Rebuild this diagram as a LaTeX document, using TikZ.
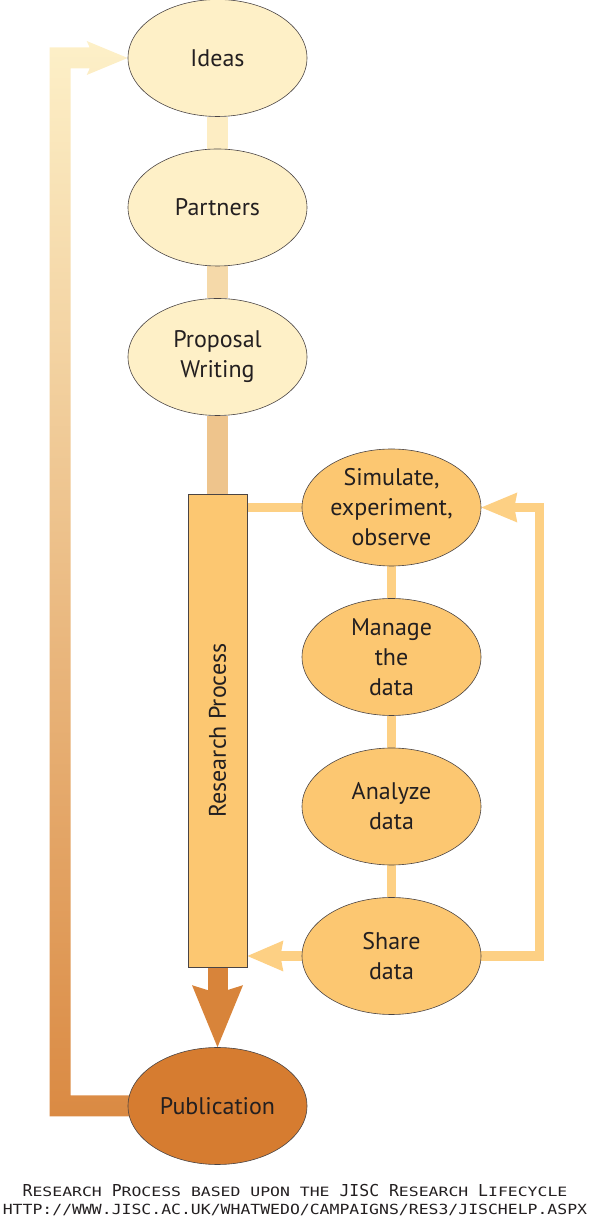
\documentclass[tikz,border=0pt]{standalone}
\usepackage{graphicx}
\usepackage{fontspec}
\setmainfont{PT Sans}
\newfontfamily\capfont{DejaVu Sans Mono}
\usetikzlibrary{arrows.meta,shapes,calc,backgrounds}

\definecolor{cream}{HTML}{FEF0C7}
\definecolor{gold}{HTML}{FCC771}
\definecolor{rust}{HTML}{D67C30}
\definecolor{ink}{HTML}{231F20}
\definecolor{rim}{HTML}{4A4444}
\definecolor{linkA}{HTML}{FDEDC3}
\definecolor{linkB}{HTML}{F5D9A9}
\definecolor{linkC}{HTML}{EEC48C}
\definecolor{flowc}{HTML}{FDD084}
\definecolor{trunkc}{HTML}{D8843A}
\definecolor{loopTop}{HTML}{FDF0C8}
\definecolor{loopBot}{HTML}{DA8A43}

\newcommand\lowcap[2][0.78]{\scalebox{1}[#1]{#2}}

\begin{document}
\begin{tikzpicture}[x=1pt,y=1pt,node distance=149.5pt,
                    stage/.style={ellipse,draw=rim,line width=0.6pt,
                      minimum width=179pt,minimum height=117pt,inner sep=0pt,
                      align=center,text=ink,font=\fontsize{24}{30}\selectfont},
                    column/.style={rectangle,draw=rim,line width=0.8pt,fill=gold,
                      minimum width=59pt,minimum height=473pt,inner sep=0pt,
                      text=ink,font=\fontsize{24}{28}\selectfont},
                    spine/.style={line width=21pt},
                    flow/.style={draw=flowc,line width=9.5pt},
                    caption/.style={anchor=base,inner sep=0pt,text=ink,
                      font=\capfont\fontsize{16.45}{18}\selectfont}]

  \useasboundingbox (0,0) rectangle (590,1219);

  \node[stage,fill=cream] (ideas)    at (217.5,1161)  {Ideas};
  \node[stage,fill=cream] (partners) [below of=ideas] {Partners};
  \node[stage,fill=cream] (proposal) [below of=partners] {Proposal\\Writing};
  \node[column]           (research) at (217.5,488.5) {\rotatebox{90}{Research Process}};
  \node[stage,fill=gold]  (simulate) at (391.5,711.5) {Simulate,\\experiment,\\observe};
  \node[stage,fill=gold]  (manage)   [below of=simulate] {Manage\\the\\data};
  \node[stage,fill=gold]  (analyze)  [below of=manage] {Analyze\\data};
  \node[stage,fill=gold]  (share)    [below of=analyze] {Share\\data};
  \node[stage,fill=rust]  (pub)      at (217.5,113)  {Publication};

  \node[caption] (cap1) at (295,23)
    {R\lowcap{ESEARCH} P\lowcap{ROCESS} \lowcap{BASED UPON THE} JISC R\lowcap{ESEARCH} L\lowcap{IFECYCLE}};
  \node[caption] (cap2) at (295,5)
    {\lowcap[0.85]{HTTP://WWW.JISC.AC.UK/WHATWEDO/CAMPAIGNS/RES3/JISCHELP.ASPX}};

  \begin{scope}[on background layer]
    % main column
    \draw[spine,draw=linkA] (ideas) -- (partners);
    \draw[spine,draw=linkB] (partners) -- (proposal);
    \draw[spine,draw=linkC] (proposal) -- (research);
    \draw[draw=trunkc,line width=20pt,
          -{Stealth[length=62pt,width=51pt,inset=8pt,line width=0pt]}]
      (research) -- (pub);

    % research cycle
    \draw[flow] (research.east |- simulate) -- (simulate);
    \draw[flow] (simulate) -- (manage);
    \draw[flow] (manage) -- (analyze);
    \draw[flow] (analyze) -- (share);
    \draw[flow,-{Stealth[length=36pt,width=31pt,inset=3pt,line width=0pt]}]
      (share) -- (share -| research.east);
    \draw[flow,-{Stealth[length=36pt,width=30pt,inset=3pt,line width=0pt]}]
      (share.east) -- ++(58,0) |- (simulate.east);

    % back to ideas
    \shade[top color=loopTop,bottom color=loopBot]
      ($(pub.west)+(8,-10.5)$) -- ($(pub.west)+(-78,-10.5)$)
      -- ($(ideas.west)+(-78,10.5)$) -- ($(ideas.west)+(-38,10.5)$)
      -- ($(ideas.west)+(-41,17)$) -- (ideas.west)
      -- ($(ideas.west)+(-41,-17)$) -- ($(ideas.west)+(-38,-10.5)$)
      -- ($(ideas.west)+(-57,-10.5)$) -- ($(pub.west)+(-57,10.5)$)
      -- ($(pub.west)+(8,10.5)$) -- cycle;
  \end{scope}
\end{tikzpicture}
\end{document}
